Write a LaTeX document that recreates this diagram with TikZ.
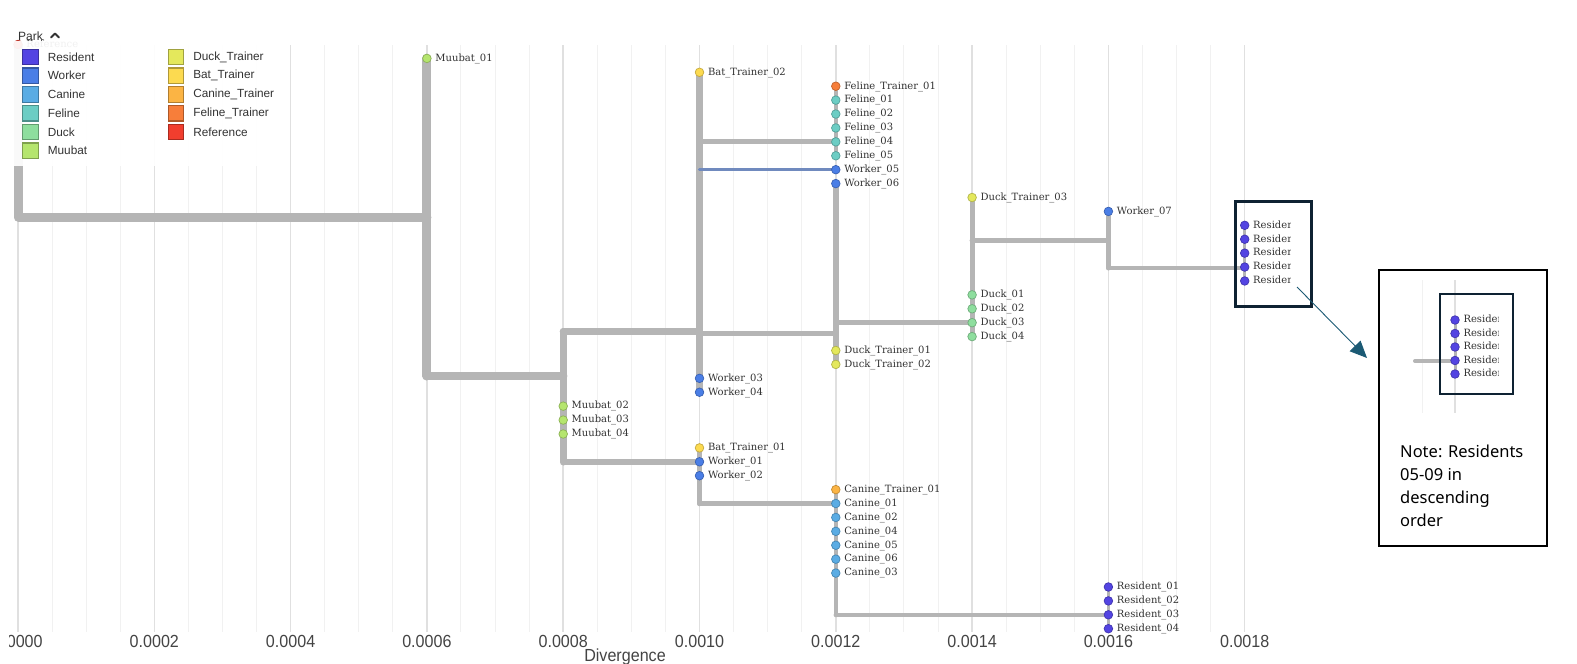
\documentclass[tikz,border=0pt]{standalone}
\usepackage{fontspec}
\setmainfont{DejaVu Serif}
\newfontfamily\legfont{Liberation Sans}
\newfontfamily\axfont[FakeStretch=0.92]{Liberation Sans}
\newfontfamily\notefont{Noto Sans}
\usetikzlibrary{arrows.meta}
\definecolor{cRes}{RGB}{83,68,226}
\definecolor{cWork}{RGB}{74,126,230}
\definecolor{cCan}{RGB}{90,172,228}
\definecolor{cFel}{RGB}{108,205,196}
\definecolor{cDuck}{RGB}{142,222,158}
\definecolor{cMuu}{RGB}{181,229,110}
\definecolor{cDT}{RGB}{228,232,92}
\definecolor{cBT}{RGB}{252,218,80}
\definecolor{cCT}{RGB}{251,180,68}
\definecolor{cFT}{RGB}{247,126,58}
\definecolor{cRef}{RGB}{241,62,46}
\definecolor{brgray}{RGB}{181,181,181}
\definecolor{wblue}{RGB}{112,138,190}
\definecolor{gridmaj}{RGB}{224,224,224}
\definecolor{gridmin}{RGB}{241,241,241}
\definecolor{labtxt}{RGB}{51,51,51}
\definecolor{axtxt}{RGB}{68,68,68}
\definecolor{navy}{RGB}{14,34,50}
\definecolor{arrc}{RGB}{27,90,116}
\pgfdeclarelayer{paper}
\pgfdeclarelayer{grid}
\pgfdeclarelayer{branches}
\pgfdeclarelayer{front}
\pgfsetlayers{paper,grid,branches,main,front}
\tikzset{
  tipdot/.style={circle, inner sep=0pt, minimum size=8.6pt, line width=0.7pt},
  tiplab/.style={anchor=base west, inner sep=0pt, font=\fontsize{10}{12}\selectfont, text=labtxt},
  br/.style={draw=brgray, line width=#1, line cap=round, line join=round},
  gmaj/.style={draw=gridmaj, line width=1.5pt},
  gmin/.style={draw=gridmin, line width=1pt},
  legsq/.style={minimum size=15.5pt, inner sep=0pt, line width=1.2pt},
  legtxt/.style={anchor=west, inner sep=0pt, font=\legfont\fontsize{11.8}{13}\selectfont, text=labtxt},
  ticklab/.style={anchor=base, inner sep=0pt, font=\axfont\fontsize{17.5}{19}\selectfont, text=axtxt},
  notetxt/.style={anchor=base west, inner sep=0pt, font=\notefont\fontsize{16.5}{20}\selectfont, text=black},
}
\newcommand\tip[5]{%
  \node[tipdot, fill=#4, draw=#4!78!black] (#1) at (#2,{58.4+13.91*(#3)}) {};
  \node[tiplab] (#1l) at ([xshift=8.3pt,yshift=-2.8pt]#1.center) {#5};}
\newcommand\legitem[4]{%
  \node[legsq, fill=#3, draw=#3!70!black] (#1) at (#2) {};
  \node[legtxt] (#1t) at ([xshift=17.1pt]#1.center) {#4};}
\begin{document}
\begin{tikzpicture}[x=1pt,y=-1pt]
\useasboundingbox (0,0) rectangle (1577,664);
\begin{pgfonlayer}{paper}
\fill[white] (0,0) rectangle (1577,664);
\end{pgfonlayer}

% grid
\begin{pgfonlayer}{grid}
\foreach \k in {0,...,36}{
  \pgfmathsetmacro\gx{18+34.075*\k}
  \pgfmathtruncatemacro\m{mod(\k,4)}
  \ifnum\m=0 \draw[gmaj] (\gx,45) -- (\gx,632);
  \else \draw[gmin] (\gx,45) -- (\gx,632); \fi
}
\end{pgfonlayer}

% axis labels
\foreach \k/\t in {1/0.0002,2/0.0004,3/0.0006,4/0.0008,5/0.0010,6/0.0012,7/0.0014,8/0.0016,9/0.0018}
  \node[ticklab] (tick\k) at ({18+136.3*\k},647) {\t};
\begin{scope}
  \clip (9,600) rectangle (70,664);
  \node[ticklab] (tick0) at (18,647) {0.0000};
\end{scope}
\node[ticklab] (xlab) at (625,661.5) {Divergence};

% internal nodes
\coordinate (root) at (18,217);
\coordinate (n06) at (426.9,217);
\coordinate (n08) at (563.2,376);
\coordinate (n10a) at (699.5,331.5);
\coordinate (n12a) at (835.8,333.5);
\coordinate (nFel) at (835.8,141.9);
\coordinate (nDuck) at (972.1,322);
\coordinate (n16) at (1108.4,240.5);
\coordinate (n18) at (1244.7,268);
\coordinate (n10b) at (699.5,462);
\coordinate (n12b) at (835.8,503.5);
\coordinate (n16b) at (1108.4,615);

% tips
\tip{Ref}{18}{-1}{cRef}{Reference}
\tip{Muu01}{426.9}{0}{cMuu}{Muubat\_01}
\tip{BT02}{699.5}{1}{cBT}{Bat\_Trainer\_02}
\tip{FT01}{835.8}{2}{cFT}{Feline\_Trainer\_01}
\tip{Fel01}{835.8}{3}{cFel}{Feline\_01}
\tip{Fel02}{835.8}{4}{cFel}{Feline\_02}
\tip{Fel03}{835.8}{5}{cFel}{Feline\_03}
\tip{Fel04}{835.8}{6}{cFel}{Feline\_04}
\tip{Fel05}{835.8}{7}{cFel}{Feline\_05}
\tip{W05}{835.8}{8}{cWork}{Worker\_05}
\tip{W06}{835.8}{9}{cWork}{Worker\_06}
\tip{DT03}{972.1}{10}{cDT}{Duck\_Trainer\_03}
\tip{W07}{1108.4}{11}{cWork}{Worker\_07}
\begin{scope}
  \clip (1230,200) rectangle (1290,300);
  \tip{Res09}{1244.7}{12}{cRes}{Resident\_09}
  \tip{Res08}{1244.7}{13}{cRes}{Resident\_08}
  \tip{Res07}{1244.7}{14}{cRes}{Resident\_07}
  \tip{Res06}{1244.7}{15}{cRes}{Resident\_06}
  \tip{Res05}{1244.7}{16}{cRes}{Resident\_05}
\end{scope}
\tip{Duck01}{972.1}{17}{cDuck}{Duck\_01}
\tip{Duck02}{972.1}{18}{cDuck}{Duck\_02}
\tip{Duck03}{972.1}{19}{cDuck}{Duck\_03}
\tip{Duck04}{972.1}{20}{cDuck}{Duck\_04}
\tip{DT01}{835.8}{21}{cDT}{Duck\_Trainer\_01}
\tip{DT02}{835.8}{22}{cDT}{Duck\_Trainer\_02}
\tip{W03}{699.5}{23}{cWork}{Worker\_03}
\tip{W04}{699.5}{24}{cWork}{Worker\_04}
\tip{Muu02}{563.2}{25}{cMuu}{Muubat\_02}
\tip{Muu03}{563.2}{26}{cMuu}{Muubat\_03}
\tip{Muu04}{563.2}{27}{cMuu}{Muubat\_04}
\tip{BT01}{699.5}{28}{cBT}{Bat\_Trainer\_01}
\tip{W01}{699.5}{29}{cWork}{Worker\_01}
\tip{W02}{699.5}{30}{cWork}{Worker\_02}
\tip{CT01}{835.8}{31}{cCT}{Canine\_Trainer\_01}
\tip{Can01}{835.8}{32}{cCan}{Canine\_01}
\tip{Can02}{835.8}{33}{cCan}{Canine\_02}
\tip{Can04}{835.8}{34}{cCan}{Canine\_04}
\tip{Can05}{835.8}{35}{cCan}{Canine\_05}
\tip{Can06}{835.8}{36}{cCan}{Canine\_06}
\tip{Can03}{835.8}{37}{cCan}{Canine\_03}
\tip{Res01}{1108.4}{38}{cRes}{Resident\_01}
\tip{Res02}{1108.4}{39}{cRes}{Resident\_02}
\tip{Res03}{1108.4}{40}{cRes}{Resident\_03}
\tip{Res04}{1108.4}{41}{cRes}{Resident\_04}

% branches
\begin{pgfonlayer}{branches}
\draw[br=9pt] (Ref.center) -- (root) -- (n06);
\draw[br=9pt] (Muu01.center) -- (n06 |- n08);
\draw[br=8.5pt] (n06 |- n08) -- (n08);
\draw[br=7pt] (n08 |- n10a) -- (n08 |- n10b);
\draw[br=7pt] (n08 |- n10a) -- (n10a);
\draw[br=5.5pt] (n08 |- n10b) -- (n10b);
\draw[br=7pt] (BT02.center) -- (W04.center);
\draw[br=5pt] (n10a |- nFel) -- (nFel);
\draw[br=4pt] (FT01.center) -- (Fel05.center);
\draw[draw=wblue, line width=3.3pt, line cap=round] (n10a |- W05) -- (W05.center);
\draw[br=5.5pt] (n10a |- n12a) -- (n12a);
\draw[br=5.5pt] (W06.center) -- (DT02.center);
\draw[br=5pt] (n12a |- nDuck) -- (nDuck);
\draw[br=5pt] (DT03.center) -- (Duck04.center);
\draw[br=5pt] (nDuck |- n16) -- (n16);
\draw[br=5pt] (W07.center) -- (n16 |- n18);
\draw[br=4.3pt] (n16 |- n18) -- (n18);
\draw[br=3pt] (Res09.center) -- (Res05.center);
\draw[br=5.5pt] (BT01.center) -- (n10b |- n12b);
\draw[br=5pt] (n10b |- n12b) -- (n12b);
\draw[br=4.5pt] (CT01.center) -- (n12b |- n16b);
\draw[br=4.5pt] (n12b |- n16b) -- (n16b);
\draw[br=3pt] (Res01.center) -- (Res04.center);
\end{pgfonlayer}

% legend
\begin{pgfonlayer}{front}
\fill[white, opacity=0.93] (13,41) rectangle (290,166);
\node[legtxt, font=\legfont\fontsize{12}{14}\selectfont] (park) at (18,36) {Park};
\draw[labtxt, line width=1.8pt, line cap=round, line join=round] (51,37.5) -- (55,33.5) -- (59,37.5);
\legitem{lRes}{30.5,57}{cRes}{Resident}
\legitem{lWork}{30.5,75.75}{cWork}{Worker}
\legitem{lCan}{30.5,94.5}{cCan}{Canine}
\legitem{lFel}{30.5,113.25}{cFel}{Feline}
\legitem{lDuck}{30.5,132}{cDuck}{Duck}
\legitem{lMuu}{30.5,150.75}{cMuu}{Muubat}
\legitem{lDT}{176,57}{cDT}{Duck\_Trainer}
\legitem{lBT}{176,75.75}{cBT}{Bat\_Trainer}
\legitem{lCT}{176,94.5}{cCT}{Canine\_Trainer}
\legitem{lFT}{176,113.25}{cFT}{Feline\_Trainer}
\legitem{lRef}{176,132}{cRef}{Reference}
\end{pgfonlayer}

% highlight box and note
\node[draw=navy, line width=3.5pt, minimum width=76pt, minimum height=105pt, inner sep=0pt] (zoomA) at (1273.25,253.75) {};
\node[draw=black, line width=2pt, minimum width=168pt, minimum height=276pt, inner sep=0pt] (notebox) at (1463,408) {};
\draw[gmin] (1422,280) -- (1422,413);
\draw[gmaj] (1455,280) -- (1455,413);
\draw[br=4pt] (1415,361) -- (1455,361);
\draw[br=3pt] (1455,320) -- (1455,374);
\begin{scope}
  \clip (1440,300) rectangle (1498,390);
  \foreach \j/\r/\yy in {1/09/320,2/08/333.5,3/07/347,4/06/360.5,5/05/374}{
    \node[tipdot, fill=cRes, draw=cRes!78!black] (iz\j) at (1455,\yy) {};
    \node[tiplab] (iz\j l) at ([xshift=8.3pt,yshift=-2.8pt]iz\j.center) {Resident\_\r};
  }
\end{scope}
\node[draw=navy, line width=1.8pt, minimum width=73.2pt, minimum height=100.2pt, inner sep=0pt] (zoomB) at (1476.5,344) {};
\coordinate (arrS) at (1297,287);
\coordinate (arrE) at (1367,358);
\draw[arrc, line width=0.9pt, -{Triangle[length=17pt,width=15pt]}] (arrS) -- (arrE);
\node[notetxt] (note1) at (1400,457) {Note: Residents};
\node[notetxt] (note2) at (1400,480.3) {05-09 in};
\node[notetxt] (note3) at (1400,503.6) {descending};
\node[notetxt] (note4) at (1400,526.9) {order};
\end{tikzpicture}
\end{document}
